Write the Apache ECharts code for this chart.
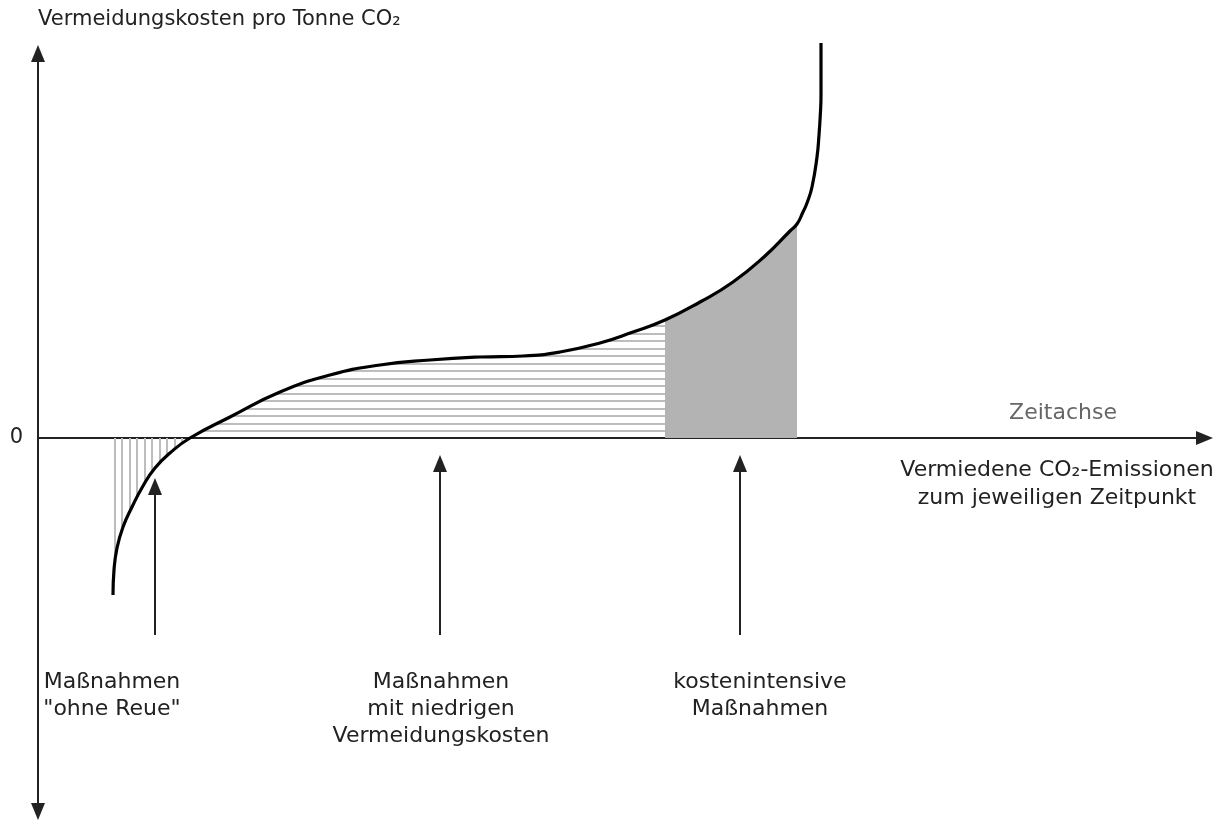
<!DOCTYPE html>
<html>
<head>
<meta charset="utf-8">
<script src="https://cdn.jsdelivr.net/npm/echarts@6/dist/echarts.min.js"></script>
<style>
    html, body { margin: 0; padding: 0; background: #fff; }
    #main { width: 1231px; height: 828px; }
</style>
</head>
<body>
<div id="main"></div>
<script>
// Kurve der Vermeidungskosten (Einheiten frei gewählt, 0 = Nulllinie)
var curveX = [7.5, 7.6, 7.9, 8.5, 9.4, 10.5, 11.7, 13.2, 15.2, 19.2, 24.2, 29.2, 34.2, 39.2, 44.2, 48.5, 52.2, 56.2, 59.5, 62.7, 66.2, 69.5, 72.7, 75.2, 75.9, 76.5, 76.9, 77.4, 77.9, 78.1, 78.23, 78.3, 78.3];
var curveY = [-15.7, -13.2, -11.0, -8.9, -6.9, -4.8, -3.0, -1.5, 0, 2.1, 4.6, 6.3, 7.3, 7.8, 8.1, 8.2, 8.6, 9.5, 10.6, 11.8, 13.6, 15.6, 18.2, 20.7, 21.4, 22.6, 23.5, 25.1, 28.1, 30.3, 32.3, 34.3, 39.5];

// Grenzen der drei Bereiche
var noRegretEnd = 15.2;
var lowCostEnd = 62.7;
var costlyEnd = 75.9;

// Pfeile unter der Achse
var arrowX = [11.7, 40.2, 70.2];
var arrowFrom = -19.7;
var arrowTo = [-4.85, -2.55, -2.55];

var xMax = 116.65;
var yMin = -37.35;
var yMax = 38.45;

var FONT = 'DejaVu Sans';
var TEXT = '22px "DejaVu Sans"';
var SMOOTH = 0.5;

function pts(from, to) {
    var out = [];
    for (var i = 0; i < curveX.length; i++) {
        if (curveX[i] >= from && curveX[i] <= to) out.push([curveX[i], curveY[i]]);
    }
    return out;
}

// Schraffur-Muster
function hatch(vertical) {
    var c = document.createElement('canvas');
    c.width = 15; c.height = 15;
    var ctx = c.getContext('2d');
    ctx.fillStyle = '#bdbdbd';
    if (vertical) {
        ctx.fillRect(1, 0, 2, 15);
        ctx.fillRect(9, 0, 2, 15);
    } else {
        ctx.fillRect(0, 3, 15, 2);
        ctx.fillRect(0, 10, 15, 2);
    }
    return { image: c, repeat: 'repeat' };
}

var arrowLines = arrowX.map(function (x, i) {
    return [
        { coord: [x, arrowFrom], symbol: 'none' },
        { coord: [x, arrowTo[i]], symbol: 'triangle' }
    ];
});

var areaBase = {
    type: 'line',
    smooth: SMOOTH,
    showSymbol: false,
    symbol: 'none',
    silent: true,
    lineStyle: { width: 0, opacity: 0 },
    z: 1
};

var myChart = echarts.init(document.getElementById('main'));
var option = {
    animation: false,
    title: {
        text: 'Vermeidungskosten pro Tonne CO₂',
        left: 33,
        top: 4,
        textStyle: { fontFamily: FONT, fontSize: 21, fontWeight: 'normal', color: '#222' }
    },
    grid: { left: 38, right: 26.5, top: 53.5, bottom: 16.5, containLabel: false },
    xAxis: {
        type: 'value',
        min: 0,
        max: xMax,
        axisLine: {
            show: true,
            onZero: true,
            symbol: ['none', 'triangle'],
            symbolSize: [14, 17],
            lineStyle: { color: '#222', width: 2 }
        },
        axisTick: { show: false },
        axisLabel: { show: false },
        splitLine: { show: false }
    },
    yAxis: {
        type: 'value',
        min: yMin,
        max: yMax,
        axisLine: {
            show: true,
            symbol: ['triangle', 'triangle'],
            symbolSize: [14, 17],
            lineStyle: { color: '#222', width: 2 }
        },
        axisTick: { show: false },
        axisLabel: {
            customValues: [0],
            margin: 15,
            fontFamily: FONT,
            fontSize: 21,
            color: '#222'
        },
        splitLine: { show: false }
    },
    series: [
        Object.assign({}, areaBase, {
            name: 'ohne Reue',
            data: pts(curveX[0], noRegretEnd),
            areaStyle: { color: hatch(true), opacity: 1 }
        }),
        Object.assign({}, areaBase, {
            name: 'niedrige Kosten',
            data: pts(noRegretEnd, lowCostEnd),
            areaStyle: { color: hatch(false), opacity: 1 }
        }),
        Object.assign({}, areaBase, {
            name: 'kostenintensiv',
            data: pts(lowCostEnd, costlyEnd),
            areaStyle: { color: '#b3b3b3', opacity: 1 }
        }),
        {
            name: 'Kurve',
            type: 'line',
            smooth: SMOOTH,
            showSymbol: false,
            symbol: 'none',
            clip: false,
            silent: true,
            z: 5,
            lineStyle: { color: '#000', width: 3.2 },
            data: curveX.map(function (x, i) { return [x, curveY[i]]; }),
            markLine: {
                silent: true,
                symbolSize: [14, 17],
                label: { show: false },
                lineStyle: { color: '#222', width: 2, type: 'solid' },
                data: arrowLines
            }
        }
    ],
    graphic: [
        {
            type: 'text', x: 1063, y: 413,
            style: { text: 'Zeitachse', font: TEXT, fill: '#666', align: 'center', verticalAlign: 'middle' }
        },
        {
            type: 'text', x: 1057, y: 456,
            style: { text: 'Vermiedene CO₂-Emissionen\nzum jeweiligen Zeitpunkt', font: TEXT, fill: '#222', align: 'center', verticalAlign: 'top', lineHeight: 28 }
        },
        {
            type: 'text', x: 112, y: 669,
            style: { text: 'Maßnahmen\n"ohne Reue"', font: TEXT, fill: '#222', align: 'center', verticalAlign: 'top', lineHeight: 27 }
        },
        {
            type: 'text', x: 441, y: 669,
            style: { text: 'Maßnahmen\nmit niedrigen\nVermeidungskosten', font: TEXT, fill: '#222', align: 'center', verticalAlign: 'top', lineHeight: 27 }
        },
        {
            type: 'text', x: 760, y: 669,
            style: { text: 'kostenintensive\nMaßnahmen', font: TEXT, fill: '#222', align: 'center', verticalAlign: 'top', lineHeight: 27 }
        }
    ]
};
myChart.setOption(option);
</script>
</body>
</html>
